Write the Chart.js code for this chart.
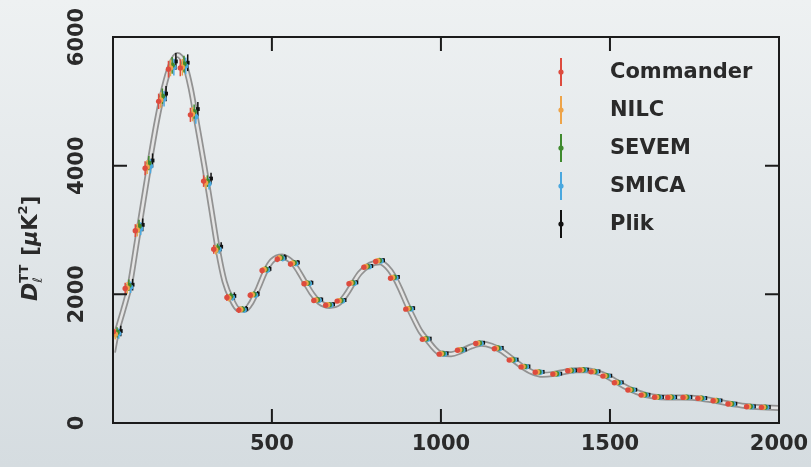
<!DOCTYPE html>
<html lang="en">
<head>
  <meta charset="UTF-8">
  <title>TT power spectrum</title>
  <script src="https://cdn.jsdelivr.net/npm/chart.js"></script>
  <style>
    body { margin: 0; background: linear-gradient(#eef1f2, #d5dce0); width: 811px; height: 467px; overflow: hidden; }
    canvas { display: block; }
  </style>
</head>
<body>
<canvas id="spectrum" width="811" height="467"></canvas>

<script>
// binned multipoles
const ell = [42,77,107,136,176,205,240,270,309,339,378,413,447,482,527,566,606,635,670,704,739,783,818,862,907,956,1006,1060,1114,1169,1213,1248,1290,1342,1386,1421,1455,1490,1524,1564,1603,1643,1682,1727,1771,1816,1860,1915,1959];

const commander = [1420,2090,2990,3960,5000,5500,5520,4790,3760,2700,1950,1755,1985,2370,2545,2470,2165,1905,1830,1895,2165,2420,2510,2250,1770,1300,1070,1130,1235,1155,978,872,788,760,812,822,795,729,625,512,434,400,398,398,383,346,295,253,243];
const nilc = [1380,2100,3000,3980,5020,5520,5530,4800,3730,2690,1945,1765,1995,2385,2565,2485,2172,1912,1838,1902,2178,2432,2522,2262,1778,1308,1078,1138,1242,1162,982,877,792,764,816,826,800,733,629,515,437,402,401,401,386,349,298,256,246];
const sevem = [1410,2140,3060,4040,5080,5560,5580,4840,3760,2720,1970,1770,2000,2390,2570,2490,2175,1915,1840,1905,2180,2435,2525,2265,1780,1310,1080,1140,1245,1165,984,879,794,766,818,828,802,735,631,516,438,403,402,402,387,350,299,257,247];
const smica = [1390,2110,3020,3990,5040,5530,5550,4760,3720,2700,1955,1758,1988,2378,2558,2478,2168,1908,1833,1898,2172,2428,2518,2258,1772,1303,1073,1133,1238,1158,979,874,789,761,813,823,797,730,626,512,434,399,398,398,383,346,295,253,243];
const plik = [1430,2150,3080,4080,5120,5620,5600,4880,3800,2740,1975,1775,2005,2395,2575,2495,2180,1920,1845,1910,2185,2440,2530,2270,1785,1312,1082,1142,1248,1168,986,880,795,767,819,829,803,736,632,517,439,404,403,403,388,351,300,258,248];

// 1-sigma errors per bin
const sigma = [80,90,100,110,120,130,130,110,90,70,55,45,45,45,45,40,35,30,30,30,30,30,30,28,25,22,20,20,20,20,18,18,18,18,18,18,18,18,16,16,15,15,15,15,15,15,15,15,15];

// best-fit model
const modelEll = [30,40,60,80,100,120,140,160,180,200,220,240,260,280,300,320,340,360,380,400,420,440,460,480,500,530,560,580,600,620,640,670,700,720,740,760,790,820,840,860,880,900,920,940,960,980,1000,1030,1060,1090,1120,1150,1180,1210,1240,1270,1300,1330,1360,1400,1430,1460,1490,1520,1550,1580,1610,1650,1700,1750,1800,1850,1900,1950,2000];
const modelD = [1100,1380,1750,2150,2800,3450,4100,4700,5200,5560,5720,5600,5200,4600,4000,3350,2700,2200,1930,1770,1760,1880,2100,2350,2520,2590,2500,2350,2170,2000,1880,1820,1870,2000,2170,2330,2460,2500,2430,2290,2080,1840,1620,1420,1290,1160,1080,1070,1120,1190,1230,1200,1120,1000,880,790,750,760,790,820,820,790,730,640,550,480,430,400,395,390,355,305,265,245,235];

const names = ['Commander', 'NILC', 'SEVEM', 'SMICA', 'Plik'];
const values = [commander, nilc, sevem, smica, plik];
const colors = ['#dd4b3e', '#eea449', '#3f8a2e', '#4aa8df', '#111111'];
const shift = [-11, -5, 0, 5, 11]; // spread the pipelines so they don't overlap

const ink = '#2a2a2a';
const font = '"DejaVu Sans", sans-serif';

const datasets = names.map((n, k) => ({
  label: n,
  data: ell.map((l, i) => ({x: l + shift[k], y: values[k][i]})),
  backgroundColor: colors[k],
  borderWidth: 0,
  pointRadius: 2.7,
  pointStyle: k === 4 ? 'rect' : 'circle'
}));
datasets.push({
  label: 'model-inner',
  data: modelEll.map((l, i) => ({x: l, y: modelD[i]})),
  showLine: true, pointRadius: 0, borderColor: '#e4e4e4', borderWidth: 2.5, cubicInterpolationMode: 'monotone'
});
datasets.push({
  label: 'model',
  data: modelEll.map((l, i) => ({x: l, y: modelD[i]})),
  showLine: true, pointRadius: 0, borderColor: '#929292', borderWidth: 6, cubicInterpolationMode: 'monotone'
});

const axesPlugin = {
  id: 'axesPlugin',
  beforeDatasetDraw(chart, args) {
    const k = args.index;
    if (k >= names.length) return;
    const {ctx, scales: {x, y}} = chart;
    ctx.save();
    ctx.strokeStyle = colors[k];
    ctx.lineWidth = 1.5;
    ell.forEach((l, i) => {
      const px = x.getPixelForValue(l + shift[k]);
      ctx.beginPath();
      ctx.moveTo(px, y.getPixelForValue(values[k][i] - sigma[i]));
      ctx.lineTo(px, y.getPixelForValue(values[k][i] + sigma[i]));
      ctx.stroke();
    });
    ctx.restore();
  },
  afterDraw(chart) {
    const {ctx, chartArea: a, scales: {x, y}} = chart;
    ctx.save();
    ctx.strokeStyle = '#1b1b1b';
    ctx.lineWidth = 2;
    ctx.strokeRect(a.left, a.top, a.right - a.left, a.bottom - a.top);

    // inward ticks on all four sides
    const tl = 14;
    ctx.beginPath();
    [500, 1000, 1500].forEach(v => {
      const px = x.getPixelForValue(v);
      ctx.moveTo(px, a.bottom); ctx.lineTo(px, a.bottom - tl);
      ctx.moveTo(px, a.top); ctx.lineTo(px, a.top + tl);
    });
    [2000, 4000].forEach(v => {
      const py = y.getPixelForValue(v);
      ctx.moveTo(a.left, py); ctx.lineTo(a.left + tl, py);
      ctx.moveTo(a.right, py); ctx.lineTo(a.right - tl, py);
    });
    ctx.stroke();

    ctx.fillStyle = ink;
    ctx.font = 'bold 21px ' + font;
    ctx.textAlign = 'center';
    ctx.textBaseline = 'middle';
    [500, 1000, 1500, 2000].forEach(v => ctx.fillText(String(v), x.getPixelForValue(v), 445));
    [0, 2000, 4000, 6000].forEach(v => {
      ctx.save();
      ctx.translate(77, y.getPixelForValue(v));
      ctx.rotate(-Math.PI / 2);
      ctx.fillText(String(v), 0, 1);
      ctx.restore();
    });

    // axis title D_l^TT [muK^2]
    ctx.save();
    ctx.translate(29, (a.top + a.bottom) / 2 + 3);
    ctx.rotate(-Math.PI / 2);
    ctx.textAlign = 'left';
    ctx.textBaseline = 'alphabetic';
    let cx = -68;
    ctx.font = 'italic bold 22px ' + font;
    ctx.fillText('D', cx, 8); cx += ctx.measureText('D').width;
    ctx.font = 'italic 13px ' + font;
    ctx.fillText('ℓ', cx, 13);
    ctx.font = 'bold 13px ' + font;
    ctx.fillText('TT', cx, -1); cx += ctx.measureText('TT').width + 9;
    ctx.font = 'bold 21px ' + font;
    ctx.fillText('[', cx, 8); cx += ctx.measureText('[').width;
    ctx.font = 'italic bold 21px ' + font;
    ctx.fillText('μ', cx, 8); cx += ctx.measureText('μ').width;
    ctx.font = 'bold 21px ' + font;
    ctx.fillText('K', cx, 8); cx += ctx.measureText('K').width;
    ctx.font = 'bold 13px ' + font;
    ctx.fillText('2', cx, -2); cx += ctx.measureText('2').width;
    ctx.font = 'bold 21px ' + font;
    ctx.fillText(']', cx, 8);
    ctx.restore();

    // legend
    names.forEach((n, k) => {
      const ly = 72 + k * 38;
      ctx.strokeStyle = colors[k];
      ctx.lineWidth = 2;
      ctx.beginPath();
      ctx.moveTo(561, ly - 14); ctx.lineTo(561, ly + 14);
      ctx.stroke();
      ctx.fillStyle = colors[k];
      ctx.beginPath();
      ctx.arc(561, ly, 2.6, 0, Math.PI * 2);
      ctx.fill();
      ctx.fillStyle = ink;
      ctx.font = 'bold 21px ' + font;
      ctx.textAlign = 'left';
      ctx.fillText(n, 610, ly + 1);
    });
    ctx.restore();
  }
};

new Chart(document.getElementById('spectrum'), {
  type: 'scatter',
  data: {datasets},
  options: {
    responsive: false,
    animation: false,
    layout: {padding: {left: 113, top: 37, right: 32, bottom: 44}},
    plugins: {legend: {display: false}, tooltip: {enabled: false}},
    scales: {
      x: {type: 'linear', min: 30, max: 2000, display: false},
      y: {min: 0, max: 6000, display: false}
    }
  },
  plugins: [axesPlugin]
});
</script>
</body>
</html>
